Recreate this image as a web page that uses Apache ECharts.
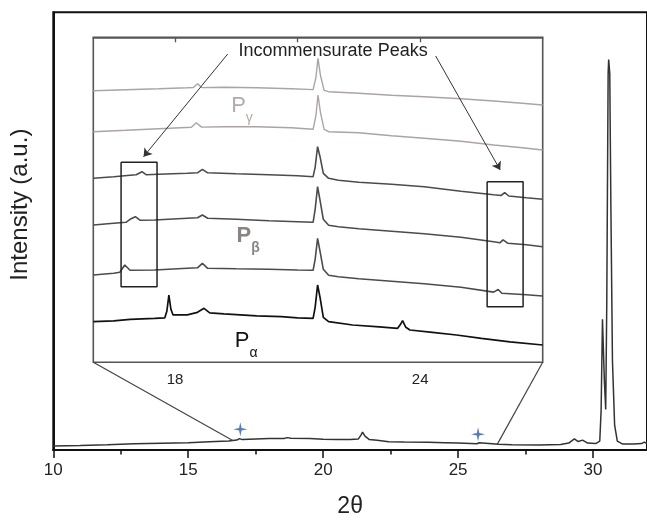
<!DOCTYPE html>
<html><head><meta charset="utf-8">
<script src="https://cdn.jsdelivr.net/npm/echarts@6/dist/echarts.min.js"></script>
<style>html,body{margin:0;padding:0;background:#fff}#c{width:647px;height:523px}</style>
</head><body><div id="c"></div>
<script>
const FONT = '"Liberation Sans", Arial, Helvetica, sans-serif';

// ---- axes ----
const mainTicks = [10, 15, 20, 25, 30];
const mainMinorTicks = [12.5, 17.5, 22.5, 27.5];
const insetTicks = [18, 21, 24];
const insetLabels = [18, 24];

// ---- main pattern (2θ, intensity a.u.) ----
const mainPattern = [
  [10,4],[11,4.5],[12,5.2],[12.5,5.7],[13,6.2],[14,6.8],[15,7.3],[16,8.5],[16.5,9],[16.8,10],
  [16.9,11.5],[17.0,10.5],[17.5,11],[18.0,11.5],[18.55,11.7],[18.67,12.5],[18.8,11.8],[19.5,11.5],
  [20.0,10.8],[20.5,10.7],[21.0,10.5],[21.3,11],[21.4,15],[21.46,18],[21.55,14],[21.7,10.7],
  [22.0,9.8],[22.43,8.3],[23.0,8],[23.9,7.7],[24.5,7.3],[25.0,7],[25.7,6.3],[25.78,7.3],[25.85,6.2],
  [26.5,5.7],[27.0,5.3],[28.0,5],[28.8,5.5],[29.1,7],[29.31,11.3],[29.45,8.5],[29.61,10],[29.8,7],
  [30.1,6.5],[30.25,9],[30.3,40],[30.35,132],[30.42,70],[30.47,41],[30.51,150],[30.56,380],
  [30.58,394],[30.62,380],[30.66,250],[30.72,90],[30.8,25],[30.9,9],[31.1,6],[31.5,6],[31.8,6.5],
  [31.9,8],[32.0,6.5]
];
const starMarks = [[16.93, 21], [25.74, 16]];

// ---- inset traces (2θ, stacked offset intensity; larger = lower) ----
const traceGamma1 = [
  [16.0,53.4],[16.8,52.5],[17.6,51.5],[18.3,50.5],[18.45,50.2],[18.55,46.5],[18.65,50.3],[19.2,50.0],
  [20.0,50.5],[20.85,51.5],[21.38,52.3],[21.45,40],[21.5,21],[21.56,38],[21.65,53],[21.76,54.4],
  [22.5,56],[23.3,58],[24.1,59.4],[25.0,61.5],[25.8,63.7],[26.5,66],[27.0,67.7]
];
const traceGamma2 = [
  [16.0,94.4],[16.8,93],[17.6,91.5],[18.4,90],[18.52,85.4],[18.65,89.8],[19.2,89.4],[20.0,89.4],
  [20.85,90.4],[21.38,92],[21.45,78],[21.5,57.7],[21.56,75],[21.65,92],[21.76,94.4],[22.5,95.5],
  [23.3,98.5],[24.1,101],[25.0,104],[25.8,107.7],[26.5,110.5],[27.0,112.7]
];
const traceBeta1 = [
  [16.0,141],[16.5,139.5],[16.9,138],[17.05,137.5],[17.19,134.4],[17.3,137.5],[17.6,137],[18.3,136],
  [18.55,135.5],[18.67,132],[18.8,135.5],[19.5,136.5],[20.3,137.5],[21.0,138.5],[21.38,139.4],
  [21.43,130],[21.49,109.4],[21.55,119.4],[21.63,136],[21.76,141],[22.0,143],[22.5,145],[23.3,147],
  [24.1,149.4],[25.0,154],[25.8,157.5],[25.98,158.2],[26.07,155.4],[26.17,158.7],[26.6,160.5],[27.0,162]
];
const traceBeta2 = [
  [16.0,187.7],[16.5,186],[16.8,185],[16.9,182],[17.03,179.4],[17.15,183],[17.5,182.7],[18.3,181],
  [18.55,180.5],[18.67,177.7],[18.8,181],[19.5,182],[20.3,183.5],[21.0,184.5],[21.38,185],
  [21.43,172],[21.49,149.4],[21.55,163],[21.63,182],[21.76,188],[22.0,189.5],[22.5,191.5],[23.3,194],
  [24.1,196.5],[25.0,200],[25.8,204.5],[25.95,205.5],[26.03,202.5],[26.15,206],[26.6,207.5],[27.0,209.4]
];
const traceBeta3 = [
  [16.0,237.7],[16.5,236],[16.65,235],[16.77,227.7],[16.9,233],[17.5,232.7],[18.3,231],[18.55,230.5],
  [18.67,226],[18.8,231],[19.5,231.5],[20.3,232],[21.0,232.7],[21.38,233],[21.43,222],[21.49,201],
  [21.55,214],[21.63,232],[21.76,238],[22.0,239.5],[22.5,241.5],[23.3,244],[24.1,246.5],[25.0,250],
  [25.8,254.8],[25.91,252.2],[26.0,256],[26.6,257.5],[27.0,258.7]
];
const traceAlpha = [
  [16.0,284.4],[16.5,283.5],[16.9,282],[17.5,281],[17.75,280.5],[17.8,274],[17.85,257.7],[17.9,272],
  [17.95,277.5],[18.3,277.5],[18.55,275],[18.71,271],[18.85,275.5],[19.2,276.5],[20.0,278.5],
  [20.6,279.4],[21.0,280.5],[21.38,281],[21.43,270],[21.49,247.7],[21.55,260],[21.63,280],[21.76,284.4],
  [22.35,287.7],[23.0,289.5],[23.45,291],[23.52,287],[23.57,283.4],[23.65,290],[23.75,292.7],
  [24.3,295],[24.89,297.7],[25.5,301],[26.2,304.5],[27.0,307.7]
];

// ---- annotations (inset coordinates) ----
const boxLeft = [[16.68,125],[17.56,125],[17.56,249.4],[16.68,249.4],[16.68,125]];
const boxRight = [[25.64,144.4],[26.52,144.4],[26.52,269.4],[25.64,269.4],[25.64,144.4]];
const arrowLines = [[[19.29,16.7],[17.23,119.4]], [[24.38,18.7],[25.96,132.7]]];
const peakNote = {text: 'Incommensurate Peaks', at: [21.87, 13.4]};
const phaseLabels = [
  {text: '{p|P}{s|γ}', at: [19.64, 69.4], color: '#b3aba9', weight: 'normal'},
  {text: '{p|P}{s|β}', at: [19.79, 199.4], color: '#8a8482', weight: 'bold'},
  {text: '{p|P}{s|α}', at: [19.74, 304.4], color: '#111', weight: 'normal'}
];
const insetCorners = [[16, 325], [27, 325]];
const zoomLinkEnds = [[16.65, 9.5], [26.45, 5.7]];

const lineSeries = (data, color, width, xi, yi) => ({
  type: 'line', data, xAxisIndex: xi, yAxisIndex: yi, showSymbol: false, symbol: 'none',
  lineStyle: {color, width}, silent: true, z: 3
});

const chart = echarts.init(document.getElementById('c'));
const option = {
  animation: false,
  backgroundColor: '#fff',
  textStyle: {fontFamily: FONT},
  grid: [
    {left: 53.3, top: 12.3, width: 595.3, height: 441.7, show: true, borderColor: '#111', borderWidth: 2, containLabel: false},
    {left: 93.3, top: 37.3, width: 449.4, height: 325, show: true, borderColor: '#555', borderWidth: 1.6, containLabel: false}
  ],
  xAxis: [
    {gridIndex: 0, type: 'value', min: 10, max: 32,
     axisLine: {show: true, lineStyle: {color: '#111', width: 2}},
     axisTick: {show: true, customValues: mainTicks, length: 8, lineStyle: {color: '#111', width: 1.5}},
     axisLabel: {customValues: mainTicks, fontSize: 17, color: '#222', margin: 12, fontFamily: FONT},
     splitLine: {show: false},
     name: '2θ', nameLocation: 'middle', nameGap: 45,
     nameTextStyle: {fontSize: 23, color: '#222', fontFamily: FONT}},
    {gridIndex: 0, type: 'value', min: 10, max: 32, position: 'bottom',
     axisLine: {show: false},
     axisTick: {show: true, customValues: mainMinorTicks, length: 4.5, lineStyle: {color: '#111', width: 1.5}},
     axisLabel: {show: false}, splitLine: {show: false}},
    {gridIndex: 1, type: 'value', min: 16, max: 27,
     axisLine: {show: true, lineStyle: {color: '#555', width: 1.6}},
     axisTick: {show: true, customValues: insetTicks, length: 5, lineStyle: {color: '#555', width: 1.3}},
     axisLabel: {customValues: insetLabels, fontSize: 15, color: '#222', margin: 10, fontFamily: FONT},
     splitLine: {show: false}}
  ],
  yAxis: [
    {gridIndex: 0, type: 'value', min: 0, max: 441.7,
     axisLine: {show: true, lineStyle: {color: '#111', width: 2}},
     axisTick: {show: false}, axisLabel: {show: false}, splitLine: {show: false},
     name: 'Intensity (a.u.)', nameLocation: 'middle', nameGap: 21,
     nameTextStyle: {fontSize: 24, color: '#222', fontFamily: FONT, padding: [0, 0, 0, 53]}},
    {gridIndex: 1, type: 'value', min: 0, max: 325, inverse: true, show: false}
  ],
  series: [
    lineSeries(mainPattern, '#333', 1.5, 0, 0),
    {type: 'scatter', data: starMarks, xAxisIndex: 0, yAxisIndex: 0,
     symbol: 'path://M0,-10 L1.8,-1.8 L10,0 L1.8,1.8 L0,10 L-1.8,1.8 L-10,0 L-1.8,-1.8 Z',
     symbolSize: 14, itemStyle: {color: '#2e5c9c'}, silent: true, z: 4},
    lineSeries(traceGamma1, '#aba4a2', 1.4, 2, 1),
    lineSeries(traceGamma2, '#aba4a2', 1.4, 2, 1),
    lineSeries(traceBeta1, '#4f4a4a', 1.6, 2, 1),
    lineSeries(traceBeta2, '#4f4a4a', 1.6, 2, 1),
    lineSeries(traceBeta3, '#4f4a4a', 1.6, 2, 1),
    lineSeries(traceAlpha, '#111', 1.7, 2, 1),
    lineSeries(boxLeft, '#222', 1.5, 2, 1),
    Object.assign(lineSeries(boxRight, '#222', 1.5, 2, 1), {
      markLine: {
        silent: true, symbol: ['none', 'arrow'], symbolSize: 8,
        lineStyle: {color: '#333', width: 1, type: 'solid'},
        label: {show: false},
        data: arrowLines.map(a => [{coord: a[0]}, {coord: a[1]}])
      }
    })
  ]
};
chart.setOption(option);

const toMain = p => chart.convertToPixel({seriesIndex: 0}, p);
const toInset = p => chart.convertToPixel({seriesIndex: 2}, p);
const graphics = [];
for (let i = 0; i < 2; i++) {
  const a = toInset(insetCorners[i]);
  const b = toMain(zoomLinkEnds[i]);
  graphics.push({type: 'line', shape: {x1: a[0], y1: a[1], x2: b[0], y2: b[1]},
    style: {stroke: '#444', lineWidth: 1.2}, silent: true, z: 5});
}
const np = toInset(peakNote.at);
graphics.push({type: 'text', x: np[0], y: np[1], silent: true, z: 6,
  style: {text: peakNote.text, fill: '#222', font: '18px ' + FONT, textAlign: 'center', textVerticalAlign: 'middle'}});
phaseLabels.forEach(l => {
  const p = toInset(l.at);
  graphics.push({type: 'text', x: p[0], y: p[1] - 12, silent: true, z: 6,
    style: {text: l.text, textAlign: 'center', textVerticalAlign: 'top',
      rich: {
        p: {fontSize: 22, fontFamily: FONT, fontWeight: l.weight, fill: l.color, lineHeight: 24, verticalAlign: 'top'},
        s: {fontSize: 14, fontFamily: FONT, fontWeight: l.weight, fill: l.color, lineHeight: 30, verticalAlign: 'bottom'}
      }}});
});
chart.setOption({graphic: graphics});
</script>
</body></html>
